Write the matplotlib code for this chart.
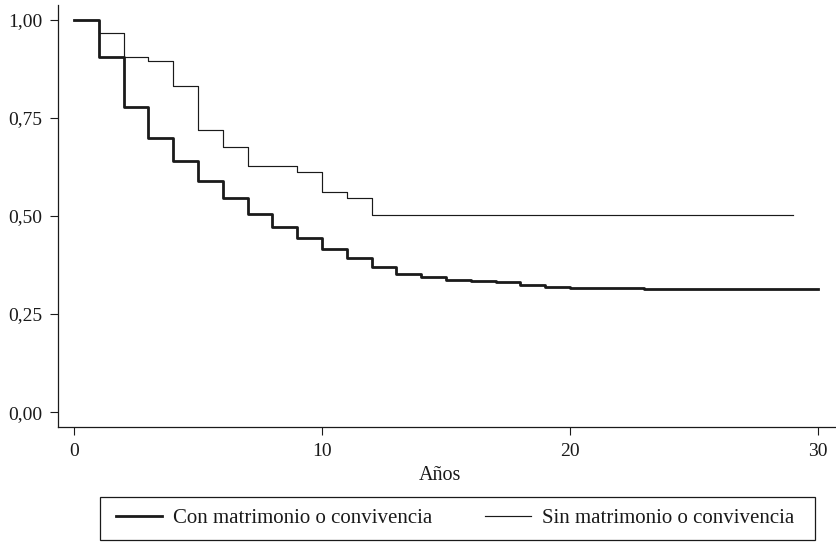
import matplotlib.pyplot as plt
from matplotlib.patches import Rectangle

plt.rcParams['font.family'] = ['Liberation Serif', 'DejaVu Serif']

# Kaplan-Meier step values
con_t = [0, 1, 2, 3, 4, 5, 6, 7, 8, 9, 10, 11, 12, 13, 14, 15, 16, 17, 18, 19, 20, 21, 23, 30]
con_s = [1.0, 0.906, 0.779, 0.700, 0.639, 0.590, 0.547, 0.506, 0.471, 0.443, 0.415, 0.392,
         0.369, 0.351, 0.344, 0.336, 0.333, 0.331, 0.323, 0.319, 0.317, 0.316, 0.315, 0.315]

sin_t = [0, 1, 2, 3, 4, 5, 6, 7, 9, 10, 11, 12, 29]
sin_s = [1.0, 0.967, 0.906, 0.896, 0.832, 0.720, 0.677, 0.628, 0.613, 0.562, 0.547, 0.503, 0.503]

y_ticks = [0, 0.25, 0.5, 0.75, 1.0]
y_labels = ['0,00', '0,25', '0,50', '0,75', '1,00']
x_ticks = [0, 10, 20, 30]
series_names = ['Con matrimonio o convivencia', 'Sin matrimonio o convivencia']

W, H = 837, 542
fig = plt.figure(figsize=(W / 100, H / 100), dpi=100)
ax = fig.add_axes([58 / W, (H - 427) / H, (W - 58) / W, 422 / H])

col = '#1a1a1a'
l1, = ax.step(con_t, con_s, where='post', color=col, lw=2.0)
l2, = ax.step(sin_t, sin_s, where='post', color=col, lw=0.85)

ax.set_xlim(-0.645, 30.77)
ax.set_ylim(-0.038, 1.038)
ax.set_yticks(y_ticks)
ax.set_yticklabels(y_labels)
ax.set_xticks(x_ticks)
ax.tick_params(direction='out', length=6, width=0.8, labelsize=14, colors=col)
ax.tick_params(axis='x', pad=5.5)
ax.tick_params(axis='y', pad=5)
for side in ['top', 'right']:
    ax.spines[side].set_visible(False)
for side in ['left', 'bottom']:
    ax.spines[side].set_linewidth(0.9)
    ax.spines[side].set_color(col)

ax.set_xlabel('Años', fontsize=14.5, color=col, va='baseline')
ax.xaxis.set_label_coords(0.49, -53 / 422)

# legend box drawn separately so the padding can match
fig.patches.append(Rectangle((100 / W, 2 / H), 715 / W, 43 / H, transform=fig.transFigure,
                             fill=False, edgecolor=col, lw=0.9))
fig.legend([l1, l2], series_names, loc='center left', bbox_to_anchor=(116 / W, 23.5 / H),
           ncol=2, fontsize=15, frameon=False, handlelength=2.2, handletextpad=0.53,
           columnspacing=2.55, borderpad=0, borderaxespad=0, labelcolor=col)

fig.savefig('out.png', dpi=100)
